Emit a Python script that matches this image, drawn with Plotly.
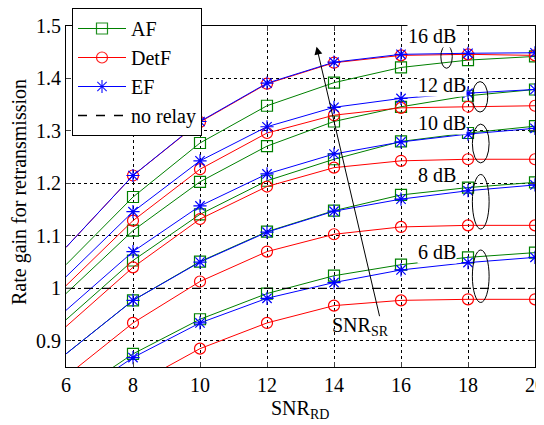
import plotly.graph_objects as go

# ---------------- data ----------------
snr_rd = [6, 8, 10, 12, 14, 16, 18, 20]
snr_sr_labels = ["16 dB", "12 dB", "10 dB", "8 dB", "6 dB"]

af_16 = [1.045, 1.174, 1.277, 1.348, 1.392, 1.421, 1.435, 1.442]
detf_16 = [1.078, 1.215, 1.317, 1.390, 1.430, 1.444, 1.446, 1.444]
ef_16 = [1.078, 1.215, 1.318, 1.391, 1.431, 1.446, 1.448, 1.449]

af_12 = [0.990, 1.110, 1.203, 1.271, 1.318, 1.346, 1.367, 1.379]
detf_12 = [1.005, 1.129, 1.227, 1.296, 1.330, 1.344, 1.346, 1.348]
ef_12 = [1.022, 1.146, 1.243, 1.308, 1.345, 1.362, 1.372, 1.379]

af_10 = [0.940, 1.053, 1.141, 1.205, 1.246, 1.280, 1.296, 1.309]
detf_10 = [0.927, 1.040, 1.132, 1.194, 1.230, 1.243, 1.246, 1.246]
ef_10 = [0.958, 1.070, 1.157, 1.218, 1.256, 1.279, 1.294, 1.305]

af_8 = [0.875, 0.977, 1.051, 1.108, 1.148, 1.178, 1.192, 1.202]
detf_8 = [0.832, 0.934, 1.013, 1.070, 1.103, 1.117, 1.120, 1.120]
ef_8 = [0.875, 0.977, 1.050, 1.107, 1.147, 1.170, 1.186, 1.197]

af_6 = [0.789, 0.875, 0.941, 0.990, 1.024, 1.045, 1.059, 1.068]
detf_6 = [0.740, 0.815, 0.885, 0.934, 0.967, 0.977, 0.979, 0.979]
ef_6 = [0.782, 0.868, 0.934, 0.981, 1.011, 1.035, 1.049, 1.059]

no_relay = [1.0, 1.0]
no_relay_x = [6, 20]

x_ticks = [6, 8, 10, 12, 14, 16, 18, 20]
y_ticks = [0.9, 1.0, 1.1, 1.2, 1.3, 1.4, 1.5]
y_tick_text = ["0.9", "1", "1.1", "1.2", "1.3", "1.4", "1.5"]

# ---------------- styles ----------------
FONT = "Liberation Serif"
FS = 20
YMIN, YMAX = 0.85, 1.5
W, H = 536, 417          # page body has an 8px margin
ML, MR, MT, MB = 58, 9, 18, 58
PW, PH = W - ML - MR, H - MT - MB
styles = {
    "AF": dict(color="#008000", symbol="square-open", size=11),
    "DetF": dict(color="#ff0000", symbol="circle-open", size=11),
    "EF": dict(color="#0000ff", symbol="asterisk-open", size=11),
}

groups = [
    {"AF": af_16, "DetF": detf_16, "EF": ef_16},
    {"AF": af_12, "DetF": detf_12, "EF": ef_12},
    {"AF": af_10, "DetF": detf_10, "EF": ef_10},
    {"AF": af_8, "DetF": detf_8, "EF": ef_8},
    {"AF": af_6, "DetF": detf_6, "EF": ef_6},
]

fig = go.Figure()

for gi, g in enumerate(groups):
    for name in ["AF", "DetF", "EF"]:
        st = styles[name]
        ys = g[name]
        op = [0 if (x == 6 or y < YMIN) else 1 for x, y in zip(snr_rd, ys)]
        fig.add_trace(go.Scatter(
            x=snr_rd, y=ys, mode="lines+markers", name=name,
            showlegend=(gi == 0), legendrank={"AF": 1, "DetF": 2, "EF": 3}[name],
            line=dict(color=st["color"], width=1),
            marker=dict(symbol=st["symbol"], size=st["size"], opacity=op,
                        line=dict(color=st["color"], width=1.2)),
            cliponaxis=False,
        ))

fig.add_trace(go.Scatter(
    x=no_relay_x, y=no_relay, mode="lines", name="no relay", legendrank=4,
    line=dict(color="black", width=1.3, dash="dash"),
))

# ellipses (SNR_SR groupings)
ellipses = [
    (17.36, 1.4415, 0.17, 0.022),
    (18.36, 1.365, 0.23, 0.029),
    (18.38, 1.276, 0.25, 0.037),
    (18.38, 1.165, 0.25, 0.052),
    (18.38, 1.023, 0.25, 0.050),
]
shapes = []
for cx, cy, rx, ry in ellipses:
    shapes.append(dict(type="circle", xref="x", yref="y",
                       x0=cx - rx, x1=cx + rx, y0=cy - ry, y1=cy + ry,
                       line=dict(color="black", width=1)))

label_pos = [(16.92, 1.481), (17.21, 1.388), (17.21, 1.316), (17.07, 1.216), (17.07, 1.070)]
annotations = []
for lab, (lx, ly) in zip(snr_sr_labels, label_pos):
    annotations.append(dict(x=lx, y=ly, xref="x", yref="y", text=lab, showarrow=False,
                            font=dict(family=FONT, size=FS, color="black"),
                            bgcolor="white", borderpad=0))

# arrow
annotations.append(dict(x=13.48, y=1.4606, ax=15.37, ay=0.944, xref="x", yref="y",
                        axref="x", ayref="y", text="", showarrow=True,
                        arrowhead=2, arrowsize=1.6, arrowwidth=1, arrowcolor="black"))
annotations.append(dict(x=14.8, y=0.928, xref="x", yref="y",
                        text="SNR<sub>SR</sub>", showarrow=False,
                        font=dict(family=FONT, size=FS, color="black")))

# axis titles (paper coords = plot area)
annotations.append(dict(x=(11 - ML) / PW, y=1 - (184 - MT) / PH, xref="paper", yref="paper",
                        text="Rate gain for retransmission", textangle=-90,
                        showarrow=False, xanchor="center", yanchor="middle",
                        font=dict(family=FONT, size=FS, color="black")))
annotations.append(dict(x=(292 - ML) / PW, y=1 - (387 - MT) / PH, xref="paper", yref="paper",
                        text="SNR<sub>RD</sub>", showarrow=False,
                        xanchor="center", yanchor="top",
                        font=dict(family=FONT, size=FS, color="black")))

fig.update_layout(
    width=W, height=H,
    margin=dict(l=ML, r=MR, t=MT, b=MB, autoexpand=False),
    paper_bgcolor="white", plot_bgcolor="white",
    font=dict(family=FONT, size=FS, color="black"),
    shapes=shapes, annotations=annotations,
    legend=dict(x=64 / W, y=1.0, xref="container", yref="container",
                xanchor="left", yanchor="top", itemwidth=48,
                bgcolor="white", bordercolor="black", borderwidth=1,
                font=dict(family=FONT, size=FS, color="black"),
                tracegroupgap=0),
    showlegend=True,
)
fig.update_xaxes(
    range=[6, 20], tickvals=x_ticks, ticks="inside", ticklen=5,
    showline=True, linecolor="black", linewidth=1, mirror="ticks",
    showgrid=True, gridcolor="black", griddash="dot", gridwidth=1,
    zeroline=False, tickfont=dict(family=FONT, size=FS), automargin=False,
    ticklabeloverflow="allow",
)
fig.update_yaxes(
    range=[YMIN, YMAX], tickvals=y_ticks, ticktext=y_tick_text, ticks="inside", ticklen=5,
    showline=True, linecolor="black", linewidth=1, mirror="ticks",
    showgrid=True, gridcolor="black", griddash="dot", gridwidth=1,
    zeroline=False, tickfont=dict(family=FONT, size=FS), automargin=False,
    ticklabeloverflow="allow",
)

fig.write_html("out.html")
